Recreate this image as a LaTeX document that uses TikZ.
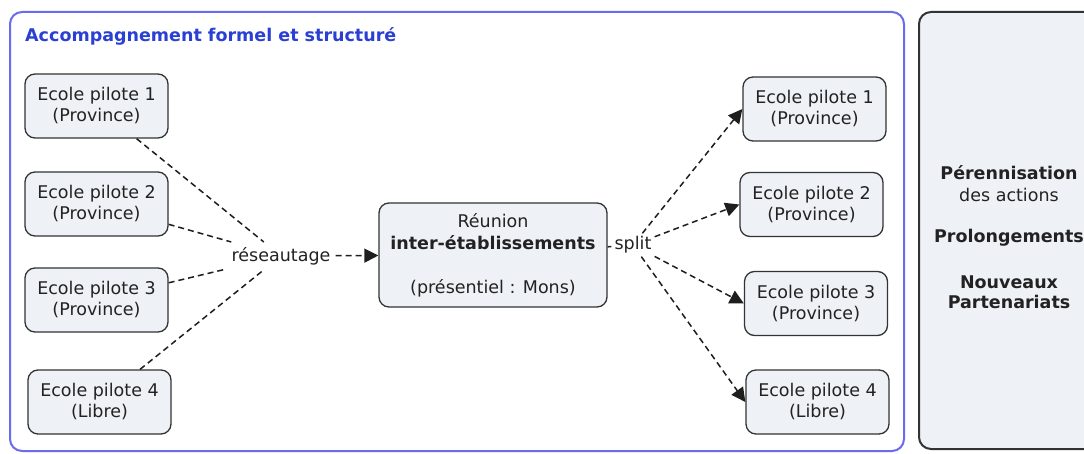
\documentclass[tikz,border=0pt]{standalone}
\usepackage{fontspec}
\setmainfont{DejaVu Sans}
\usetikzlibrary{arrows.meta}
\definecolor{boxfill}{HTML}{EEF2F6}
\definecolor{boxline}{HTML}{333333}
\definecolor{outerblue}{HTML}{6B6BEE}
\definecolor{titleblue}{HTML}{2A3FD4}
\definecolor{txt}{HTML}{222222}
\definecolor{conn}{HTML}{1E1E1E}
\tikzset{
  school/.style={draw=boxline, fill=boxfill, line width=1.3pt, rounded corners=10pt,
    minimum width=143pt, minimum height=64pt, align=center, text=txt,
    font=\fontsize{17.5}{21}\selectfont, inner sep=0pt},
  lbl/.style={text=txt, font=\fontsize{17.5}{21}\selectfont, inner sep=5pt},
  dsh/.style={draw=conn, line width=1.5pt, dash pattern=on 6pt off 4pt},
  arr/.style={dsh, -{Triangle[length=14pt,width=14pt]}},
}
\begin{document}
\begin{tikzpicture}[x=1pt,y=-1pt]
\clip (0,0) rectangle (1084,454);
\fill[white] (0,0) rectangle (1084,454);
% outer containers
\draw[outerblue, line width=2pt, fill=white, rounded corners=12pt] (10,12) rectangle (904,451);
\draw[boxline, line width=2pt, fill=boxfill, rounded corners=12pt] (919,12) rectangle (1100,449);
\node[anchor=west, text=titleblue, font=\fontsize{17.5}{20}\selectfont\bfseries, inner sep=0pt] (title) at (25,36) {Accompagnement formel et structuré};
% left schools
\node[school] (l1) at (96.5,106) {Ecole pilote 1\\(Province)};
\node[school] (l2) at (96.5,204) {Ecole pilote 2\\(Province)};
\node[school] (l3) at (96.5,300) {Ecole pilote 3\\(Province)};
\node[school] (l4) at (99.5,402) {Ecole pilote 4\\(Libre)};
% labels
\node[lbl] (res) at (281,256) {réseautage};
\node[school, minimum width=228pt, minimum height=104pt, font=\fontsize{17.5}{22}\selectfont] (reu) at (493,255)
  {Réunion\\\textbf{inter-établissements}\\[22pt](présentiel : Mons)};
\node[lbl, inner sep=3pt] (split) at (633,245) {split};
% right schools
\node[school] (r1) at (814.5,109) {Ecole pilote 1\\(Province)};
\node[school] (r2) at (811.5,204.5) {Ecole pilote 2\\(Province)};
\node[school] (r3) at (816,303.5) {Ecole pilote 3\\(Province)};
\node[school] (r4) at (817.5,402) {Ecole pilote 4\\(Libre)};
% right panel text
\node[text=txt, align=center, font=\fontsize{17.5}{22}\selectfont, inner sep=0pt] (pere) at (1009,184)
  {\textbf{Pérennisation}\\des actions};
\node[text=txt, font=\fontsize{17.5}{22}\selectfont\bfseries, inner sep=0pt] (prol) at (1009,238) {Prolongements};
\node[text=txt, align=center, font=\fontsize{17.5}{20}\selectfont\bfseries, inner sep=0pt] (nouv) at (1009,292)
  {Nouveaux\\Partenariats};
% connectors
\draw[dsh] (l1) -- (res);
\draw[dsh] (l2) -- (res);
\draw[dsh] (l3) -- (res);
\draw[dsh] (l4) -- (res);
\draw[arr] (res) -- (reu);
\draw[dsh] (reu) -- (split);
\draw[arr] (split) -- (r1.west);
\draw[arr] (split) -- (r2.west);
\draw[arr] (split) -- (r3.west);
\draw[arr] (split) -- (r4.west);
\end{tikzpicture}
\end{document}
